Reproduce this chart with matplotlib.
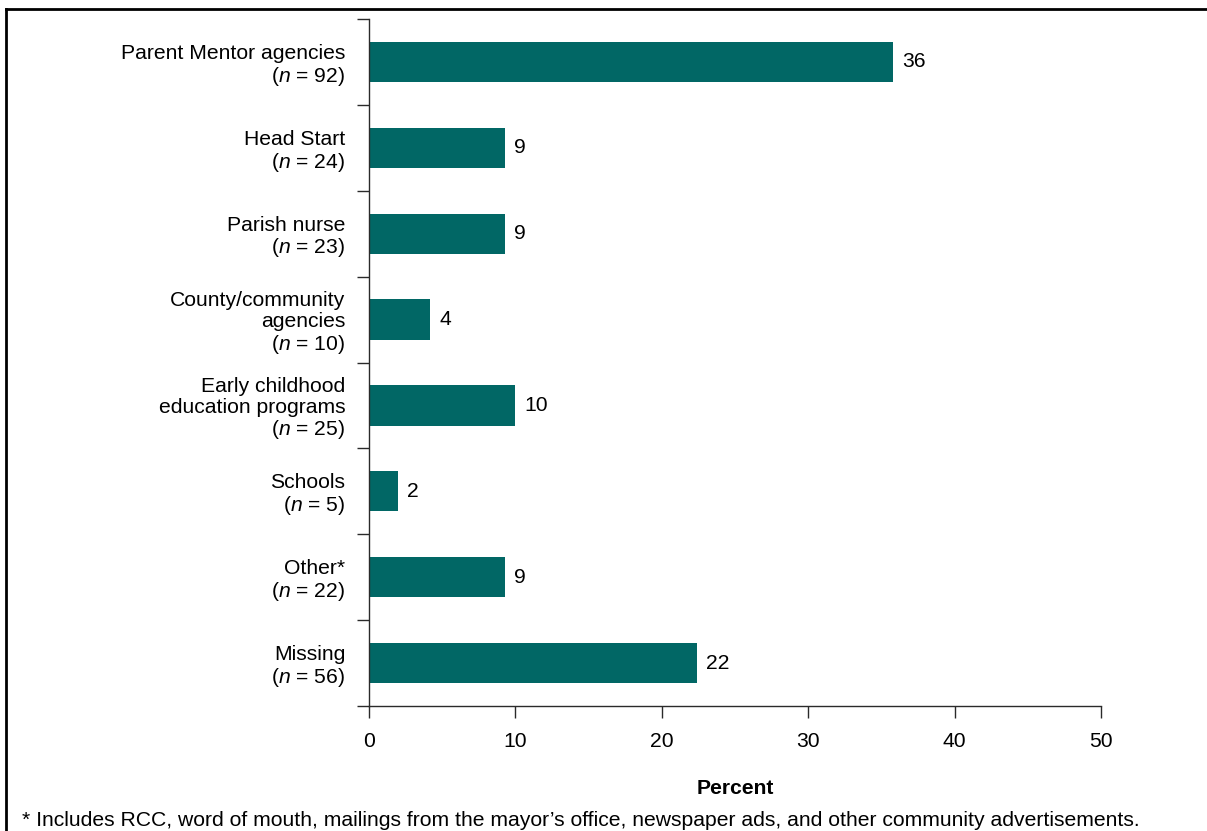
import matplotlib.pyplot as plt
import matplotlib.lines as mlines
import numpy as np

plt.rcParams['font.family'] = ['Liberation Sans', 'DejaVu Sans']
plt.rcParams['mathtext.fontset'] = 'custom'
plt.rcParams['mathtext.rm'] = 'Liberation Sans'
plt.rcParams['mathtext.it'] = 'Liberation Sans:italic'

# categories (top to bottom) with sample sizes
categories = ["Parent Mentor agencies", "Head Start", "Parish nurse",
              "County/community\nagencies", "Early childhood\neducation programs",
              "Schools", "Other*", "Missing"]
n_values = [92, 24, 23, 10, 25, 5, 22, 56]
percents = [35.8, 9.3, 9.3, 4.2, 10.0, 2.0, 9.3, 22.4]
pct_labels = ["36", "9", "9", "4", "10", "2", "9", "22"]
xticks = [0, 10, 20, 30, 40, 50]
footnote = ("* Includes RCC, word of mouth, mailings from the mayor\u2019s office, "
            "newspaper ads, and other community advertisements.")

fs = 15.2
bar_color = '#016765'
line_color = '#2a2a2a'

fig = plt.figure(figsize=(12.07, 8.31), dpi=100)
ax = fig.add_axes([369/1207, 1 - 706/831, (1101 - 369)/1207, (706 - 19)/831])

ypos = np.arange(len(categories))
ax.barh(ypos, percents, height=0.47, color=bar_color)

for y, v, lab in zip(ypos, percents, pct_labels):
    ax.annotate(lab, (v, y), xytext=(6.5, 0), textcoords='offset points',
                va='center', ha='left', fontsize=fs)

ax.set_xlim(0, 50)
ax.set_ylim(len(categories) - 0.5, -0.5)

# category labels at centres, tick marks at the boundaries
ylabels = [f"{c}\n($\\it{{n}}$ = {n})" for c, n in zip(categories, n_values)]
ax.set_yticks(ypos)
ax.set_yticklabels(ylabels, fontsize=fs, linespacing=1.1)
ax.tick_params(axis='y', which='major', length=0, pad=17)
ax.set_yticks(np.arange(len(categories) + 1) - 0.5, minor=True)
ax.tick_params(axis='y', which='minor', length=8.6, width=1.0, color=line_color)

ax.set_xticks(xticks)
ax.set_xticklabels([str(t) for t in xticks], fontsize=fs)
ax.tick_params(axis='x', length=8.6, width=1.0, color=line_color, pad=10)

ax.set_xlabel("Percent", fontsize=fs, fontweight='bold', labelpad=20)

for s in ['top', 'right']:
    ax.spines[s].set_visible(False)
for s in ['left', 'bottom']:
    ax.spines[s].set_color(line_color)
    ax.spines[s].set_linewidth(1.0)

fig.text(22/1207, 1 - 820/831, footnote, fontsize=fs, ha='left', va='center')

# partial frame around the figure (top and left edges)
fig.add_artist(mlines.Line2D([6/1207, 1], [1 - 9/831, 1 - 9/831], color='black',
                             linewidth=2.0, transform=fig.transFigure))
fig.add_artist(mlines.Line2D([6/1207, 6/1207], [0, 1 - 9/831], color='black',
                             linewidth=2.0, transform=fig.transFigure))

fig.savefig("out.png", dpi=100)
